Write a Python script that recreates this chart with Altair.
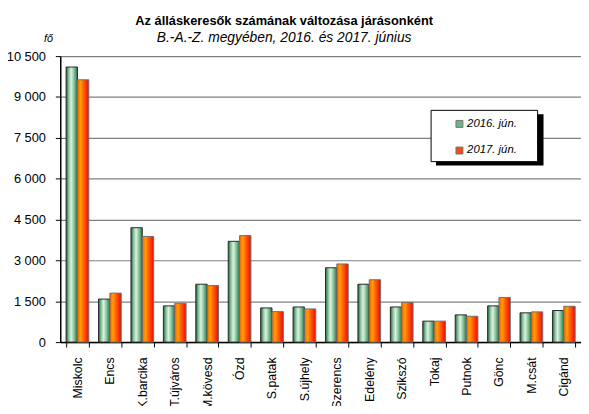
import altair as alt
import pandas as pd

districts = ["Miskolc", "Encs", "K.barcika", "T.újváros", "M.kövesd", "Ózd", "S.patak",
             "S.újhely", "Szerencs", "Edelény", "Szikszó", "Tokaj", "Putnok", "Gönc",
             "M.csát", "Cigánd"]
years = ["2016. jún.", "2017. jún."]
v2016 = [10100, 1580, 4200, 1330, 2125, 3700, 1255, 1290, 2730, 2125, 1290, 770, 1000, 1330, 1075, 1160]
v2017 = [9630, 1800, 3880, 1425, 2075, 3910, 1120, 1220, 2870, 2290, 1460, 770, 950, 1640, 1110, 1315]
y_ticks = [0, 1500, 3000, 4500, 6000, 7500, 9000, 10500]

rows = []
for d, a, b in zip(districts, v2016, v2017):
    rows.append({"district": d, "year": years[0], "value": a})
    rows.append({"district": d, "year": years[1], "value": b})
df = pd.DataFrame(rows)

FONT = "Liberation Sans"

green_grad = alt.Gradient(
    gradient="linear", x1=0, x2=1, y1=0, y2=0,
    stops=[alt.GradientStop(color="#246238", offset=0),
           alt.GradientStop(color="#8fcaa2", offset=0.25),
           alt.GradientStop(color="#dcf1e3", offset=0.45),
           alt.GradientStop(color="#86c49a", offset=0.7),
           alt.GradientStop(color="#2c7048", offset=1)])
orange_grad = alt.Gradient(
    gradient="linear", x1=0, x2=1, y1=0, y2=0,
    stops=[alt.GradientStop(color="#ff6000", offset=0),
           alt.GradientStop(color="#ffa000", offset=0.28),
           alt.GradientStop(color="#ff6a00", offset=0.5),
           alt.GradientStop(color="#ff3000", offset=0.78),
           alt.GradientStop(color="#dd1010", offset=1)])

x_enc = alt.X("district:N", sort=districts,
              scale=alt.Scale(paddingInner=0.3, paddingOuter=0.18),
              axis=alt.Axis(title=None, labelAngle=270, labelAlign="right", labelBaseline="middle",
                            labelPadding=10, labelFontSize=12.5, labelFont=FONT, labelColor="#000",
                            domainColor="#000", domainWidth=1.5, tickColor="#000", tickSize=5,
                            tickBand="extent", grid=False))
xo_enc = alt.XOffset("year:N", scale=alt.Scale(domain=years, paddingInner=0))
y_enc = alt.Y("value:Q", scale=alt.Scale(domain=[0, 10500], nice=False),
              axis=alt.Axis(values=y_ticks, title="fő", titleAngle=0, titleAlign="left",
                            titleX=-17, titleY=-13, titleFont=FONT, titleFontSize=11,
                            titleFontStyle="italic", titleFontWeight="normal",
                            labelExpr="replace(format(datum.value, ','), ',', ' ')",
                            labelFont=FONT, labelFontSize=13, labelColor="#000", labelPadding=10,
                            domainColor="#000", domainWidth=1.5, tickColor="#000", tickSize=5,
                            grid=True, gridColor="#808080", gridWidth=1.2))

base = alt.Chart(df)

legend_layer = base.mark_bar(opacity=0).encode(
    x=x_enc, xOffset=xo_enc, y=y_enc,
    color=alt.Color("year:N", scale=alt.Scale(domain=years, range=["#6cb486", "#f04e12"]),
                    legend=alt.Legend(title=None, orient="none", legendX=399, legendY=63,
                                      padding=0, symbolType="square", symbolSize=50,
                                      symbolOpacity=1, symbolStrokeColor="#777",
                                      symbolStrokeWidth=1, labelFont=FONT, labelFontSize=11.5,
                                      labelFontStyle="italic", labelColor="#000",
                                      rowPadding=14, symbolOffset=0, labelOffset=2)))

bars16 = base.transform_filter(alt.datum.year == years[0]).mark_bar(
    fill=green_grad, stroke="#2a2a2a", strokeWidth=1).encode(x=x_enc, xOffset=xo_enc, y=y_enc)
bars17 = base.transform_filter(alt.datum.year == years[1]).mark_bar(
    fill=orange_grad, stroke="#707070", strokeWidth=1).encode(x=x_enc, xOffset=xo_enc, y=y_enc)

deco = alt.Chart(pd.DataFrame({"k": [0]}))
shadow = deco.mark_rect(color="#000").encode(
    x=alt.value(381), x2=alt.value(490), y=alt.value(59), y2=alt.value(111))
box = deco.mark_rect(fill="#fff", stroke="#000", strokeWidth=1).encode(
    x=alt.value(376), x2=alt.value(484), y=alt.value(55), y2=alt.value(107))

chart = alt.layer(bars16, bars17, shadow, box, legend_layer).properties(
    width=528, height=290,
    autosize=alt.AutoSizeParams(type="none"),
    padding={"left": 53, "top": 46, "right": 0, "bottom": 62},
    title=alt.Title("Az álláskeresők  számának változása járásonként",
                    subtitle="B.-A.-Z. megyében, 2016. és 2017. június",
                    font=FONT, fontSize=13, fontWeight="bold", color="#000",
                    subtitleFont=FONT, subtitleFontSize=14, subtitleFontStyle="italic",
                    subtitleColor="#000", subtitlePadding=4, anchor="middle", dx=-37, offset=-13),
).configure_view(stroke=None)

chart.save("out.html", embed_options={"renderer": "svg", "actions": False})
